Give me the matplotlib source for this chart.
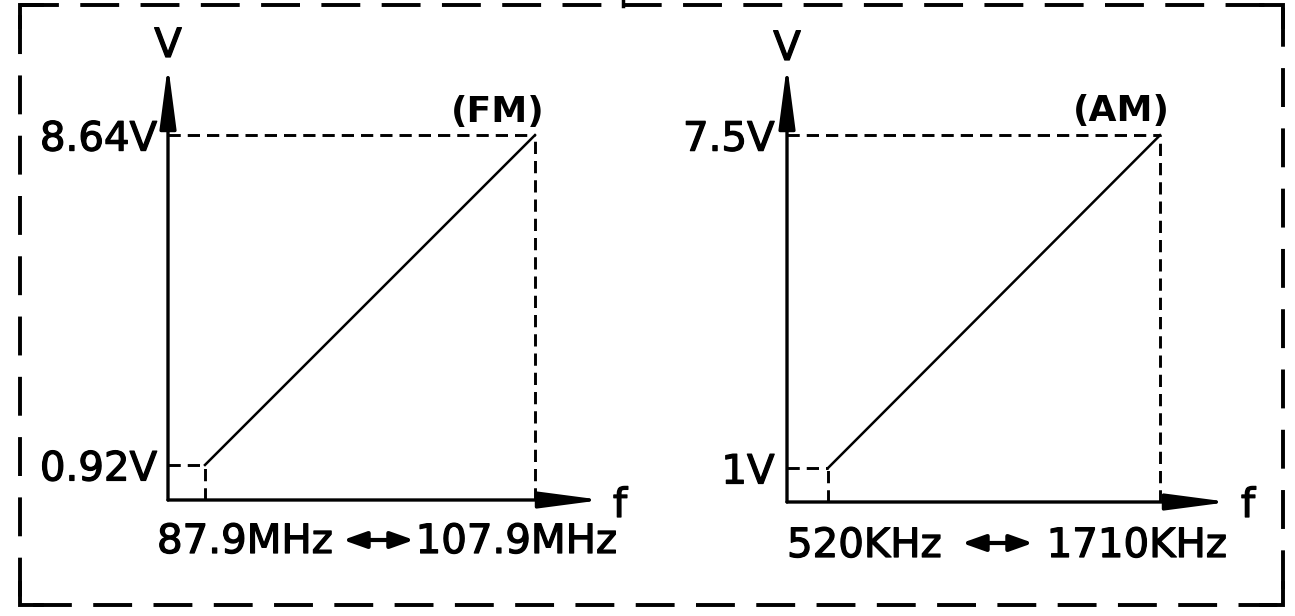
import matplotlib.pyplot as plt
import matplotlib.patheffects as pe
from matplotlib.patches import Rectangle
from matplotlib.lines import Line2D

W, H = 1295, 616

# tuning voltage vs. frequency (two end points per band)
fm_freq = [87.9, 107.9]      # MHz
fm_volt = [0.92, 8.64]       # V
am_freq = [520, 1710]        # KHz
am_volt = [1.0, 7.5]         # V

fm_ticks = ['0.92V', '8.64V']
am_ticks = ['1V', '7.5V']
fm_range = ['87.9MHz', '107.9MHz']
am_range = ['520KHz', '1710KHz']

plt.rcParams['font.family'] = ['DejaVu Sans']
FS = 29
heavy = [pe.withStroke(linewidth=0.9, foreground='black')]

fig = plt.figure(figsize=(W / 100, H / 100), dpi=100)
fig.patch.set_facecolor('white')

# overlay axes in pixel units for the frame and free text
bg = fig.add_axes([0, 0, 1, 1])
bg.set_xlim(0, W)
bg.set_ylim(H, 0)
bg.axis('off')


def px_rect(left, top, right, bottom):
    return [left / W, 1 - bottom / H, (right - left) / W, (bottom - top) / H]


def panel(rect, xlim, ylim, freq, volt, ticklabels, pad):
    ax = fig.add_axes(rect)
    ax.set_xlim(xlim)
    ax.set_ylim(ylim)
    ax.patch.set_alpha(0)
    for s in ax.spines.values():
        s.set_visible(False)
    ax.set_xticks([])
    ax.set_yticks(volt, ticklabels)
    ax.tick_params(axis='y', length=0, pad=pad, labelsize=FS)
    for lab in ax.get_yticklabels():
        lab.set_path_effects(heavy)

    dash = dict(color='black', lw=2.1, linestyle=(0, (4.2, 2.4)))
    for f, v in zip(freq, volt):
        ax.plot([xlim[0], f], [v, v], **dash)
        ax.plot([f, f], [ylim[0], v], **dash)
    ax.plot(freq, volt, color='black', lw=1.8)

    arrow = dict(arrowstyle='-|>,head_length=3.8,head_width=0.5',
                 color='black', lw=2.4, shrinkA=0, shrinkB=0,
                 mutation_scale=10)
    ax.annotate('', xy=(1, 0), xytext=(0, 0), xycoords='axes fraction',
                arrowprops=arrow)
    ax.annotate('', xy=(0, 1), xytext=(0, 0), xycoords='axes fraction',
                arrowprops=arrow)
    return ax


panel(px_rect(168, 65, 602, 500), (85.66, 111.96), (0.10, 10.28),
      fm_freq, fm_volt, fm_ticks, 8)
panel(px_rect(787, 65, 1229, 502), (373, 1957), (0.336, 8.87),
      am_freq, am_volt, am_ticks, 9)

txt = dict(fontsize=FS, path_effects=heavy)
# axis names and band tags
bg.text(168, 57, 'V', ha='center', va='baseline', **txt)
bg.text(787, 60, 'V', ha='center', va='baseline', **txt)
bg.text(620, 517, 'f', ha='center', va='baseline', **txt)
bg.text(1248, 517, 'f', ha='center', va='baseline', **txt)
bg.text(498, 122, '(FM)', ha='center', va='baseline', fontsize=26,
        fontweight='bold')
bg.text(1121, 121, '(AM)', ha='center', va='baseline', fontsize=26,
        fontweight='bold')

# frequency ranges under the axes
bg.text(157, 553, fm_range[0], ha='left', va='baseline', **txt)
bg.text(617, 553, fm_range[1], ha='right', va='baseline', **txt)
bg.text(787, 557, am_range[0], ha='left', va='baseline', **txt)
bg.text(1227, 557, am_range[1], ha='right', va='baseline', **txt)
dbl = dict(arrowstyle='<|-|>,head_length=1.4,head_width=0.5', color='black',
           lw=3, shrinkA=0, shrinkB=0, mutation_scale=10)
bg.annotate('', xy=(414, 540), xytext=(343, 540), arrowprops=dbl)
bg.annotate('', xy=(1033, 543), xytext=(962, 543), arrowprops=dbl)

# dashed outer frame with solid corners
bg.add_patch(Rectangle((20, 5), 1263, 600, fill=False, ec='black', lw=2.8,
                       linestyle=(0, (10, 5.5))))
for cx, cy, dx, dy in [(20, 5, 1, 1), (1283, 5, -1, 1),
                       (20, 605, 1, -1), (1283, 605, -1, -1)]:
    bg.add_line(Line2D([cx + 22 * dx, cx, cx], [cy, cy, cy + 22 * dy],
                       color='black', lw=2.8, solid_joinstyle='miter'))
bg.add_line(Line2D([623, 623], [0, 6], color='black', lw=2.5))

fig.savefig('out.png', dpi=100, facecolor='white')
